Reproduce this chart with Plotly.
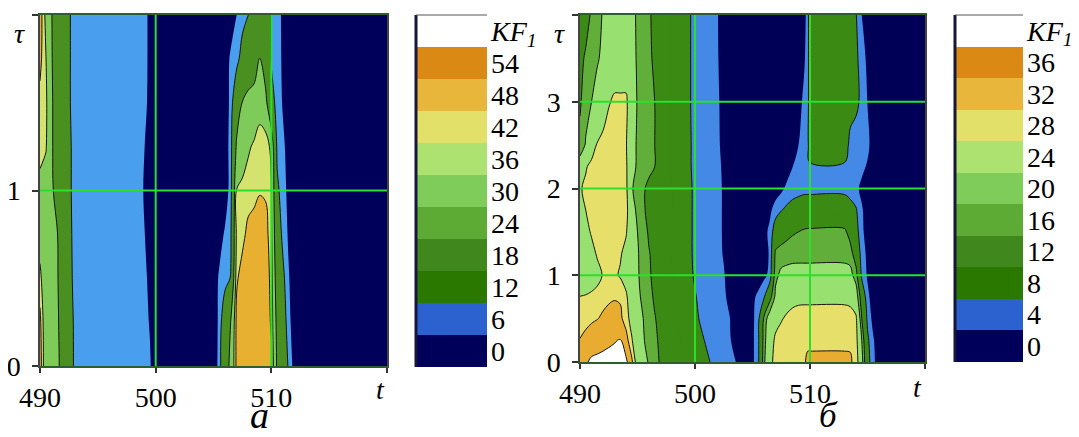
import plotly.graph_objects as go

W, H = 1079, 437          # browser window
OFF = 8                   # default page margin around the plot div
FW, FH = W - OFF, H - OFF  # figure size so that it ends at the window edges
FONT = "Liberation Serif, Times New Roman, serif"

# ---------------- panel a : KF1(t, tau) ----------------
t_a = [490, 490.5, 491, 491.5, 492, 492.5, 493, 498.5, 499.5, 500,
       505, 505.5, 506, 506.5, 507, 507.5, 508, 508.5, 509, 509.5,
       510, 510.5, 511, 511.5, 512, 520]
tau_a = [0, 0.25, 0.5, 0.75, 1.0, 1.25, 1.5, 1.75, 2.0]

a_tau000 = [52, 35, 34, 33, 24, 19, 10, 9, 6.5, 3, 2, 8, 24, 33, 50, 52, 53, 53, 53, 53, 50, 28, 18, 11, 3, 2]
a_tau025 = [50, 35, 34, 32, 23, 18, 10, 9, 5.7, 3, 2, 7.5, 20, 30.5, 50, 52, 52, 53, 53, 53, 47, 26, 17, 8, 2, 2]
a_tau050 = [44, 35, 34, 31, 22, 16, 9, 9, 5, 3, 2, 7, 9, 12.5, 47, 51, 52, 52, 53, 52, 46, 22, 14, 6.5, 2, 2]
a_tau075 = [38, 35, 33, 30.5, 21, 15, 9, 9, 3.7, 3, 2, 3, 7, 11, 44, 46, 50, 51, 52, 51, 44, 18, 10, 5, 2, 2]
a_tau100 = [40, 36, 33, 23, 21, 14, 9, 9, 2, 2, 2, 2, 2, 9, 42.5, 44, 45, 46, 47.5, 47, 42.5, 14, 8, 4.5, 2, 2]
a_tau125 = [44, 43, 32, 22, 21, 14, 9, 9, 3.5, 3, 2, 2, 2, 9, 32, 37, 41, 43, 45, 46, 40, 10, 7, 4, 2, 2]
a_tau150 = [46, 44, 32, 22, 21, 13, 9, 9, 5, 3, 2, 2, 2, 8, 22, 30.5, 34, 36, 39, 34, 16, 9, 5.5, 3, 2, 2]
a_tau175 = [50, 42.5, 31, 22, 21, 13, 9, 9, 5.2, 3, 2, 2, 3, 7, 9, 16, 20, 22, 30.5, 22, 11, 8.5, 5, 3, 2, 2]
a_tau200 = [52, 40, 30.5, 22, 21, 13, 9, 9, 5.2, 3, 2, 2, 2, 3, 6, 9, 11.8, 20, 21, 20, 11, 8, 5, 3, 2, 2]
z_a = [a_tau000, a_tau025, a_tau050, a_tau075, a_tau100, a_tau125,
       a_tau150, a_tau175, a_tau200]

# ---------------- panel b : KF1(t, tau) ----------------
t_b = [490, 490.5, 491, 491.5, 492, 492.5, 493, 493.5, 494, 494.5, 495, 495.5, 496, 496.5, 497,
       499.5, 500, 500.5, 501, 501.5, 502, 502.5, 503, 503.5, 504,
       505, 505.5, 506, 506.5, 507, 507.5, 508, 508.5, 509, 509.5, 509.8,
       510, 513, 513.5, 514, 514.5, 515, 515.5, 516, 520]
tau_b = [0, 0.25, 0.5, 0.75, 1.0, 1.25, 1.5, 1.75, 2.0, 2.25, 2.5, 3.0, 3.5, 4.0]

b_tau000 = [37, 39, 41.5, 42, 42.5, 43, 43, 42.5, 42, 33, 25, 22, 19.5, 17.5, 15.5,
            11, 10, 9.5, 8.8, 7.5, 6.5, 5.8, 5, 4.2, 2,
            3, 7, 19, 26, 30, 31, 31.3, 31.5, 31.7, 31.9, 32.2,
            32.2, 32.2, 32.4, 31, 22, 10, 5, 1.5, 1]
b_tau025 = [32.3, 34, 35.5, 36.5, 37.5, 38.5, 39.5, 40.5, 34, 28.5, 23.5, 20.5, 18, 16.5, 15.5,
            10.5, 9.5, 8.8, 7.5, 6.5, 6, 5.2, 4.5, 2.5, 1,
            3, 7, 18, 25, 29, 30.5, 31, 31.5, 31.7, 31.8, 31.8,
            31.8, 31.8, 31.5, 30, 20, 9, 4.5, 1, 1]
b_tau050 = [29, 30, 31, 31.8, 32.8, 34, 34.5, 33, 30, 26, 22, 20, 17.5, 16.2, 15,
            10, 9, 7.5, 7, 6.5, 6, 5, 4.2, 2, 1,
            3, 6.5, 17, 23, 26, 27.5, 29, 30.5, 31.2, 31.5, 31.5,
            31.5, 31.5, 31, 29, 16, 7, 2.5, 1, 1]
b_tau075 = [28.2, 28.5, 29, 29.5, 30.5, 31, 31.5, 31.5, 29, 24, 21, 19, 17, 15.5, 14.5,
            9.5, 8.3, 7, 6.5, 6, 5.5, 4.7, 3, 1.5, 1,
            3, 5, 7.5, 14, 21, 24, 25, 25.5, 26, 26, 26,
            26, 26, 25.5, 23, 13, 5, 2, 1, 1]
b_tau100 = [22, 23.5, 25, 26.5, 28.3, 29, 28.8, 27.5, 25.5, 23, 20.5, 18.5, 16.5, 15, 14,
            9, 7.5, 6.5, 6, 5.5, 5, 4.3, 2.5, 1.2, 1,
            1, 1.5, 3, 5, 19, 21, 21.5, 21.8, 21.9, 21.9, 21.9,
            21.9, 21.9, 21.5, 18, 7, 3.5, 1.5, 1, 1]
b_tau125 = [23, 25, 26.5, 28.5, 29.5, 30, 29.5, 28.5, 26.5, 23.5, 20.5, 18, 16.2, 15, 14,
            9, 7, 6.5, 6, 5.5, 5, 3.7, 2, 1, 1,
            1, 1.5, 3, 4.25, 17, 18, 18.3, 18.5, 18.5, 18.5, 18.5,
            18.5, 18.5, 18, 13, 6, 3, 1.5, 1, 1]
b_tau150 = [24, 26.5, 28.5, 30, 30.5, 31, 30.5, 30, 28.5, 24, 20, 17.5, 15.5, 14.5, 14,
            9, 7, 6.5, 6, 5.5, 5, 3.5, 1.8, 1, 1,
            1, 1.5, 2.5, 5, 11, 13, 14.5, 15.5, 16, 16.8, 17,
            17, 17, 14, 10, 5, 2, 1, 1, 1]
b_tau175 = [26, 28, 29.5, 30.5, 31, 31, 31, 30.5, 29.5, 24, 18, 16.5, 15, 14.5, 14,
            9, 7, 6.5, 6, 5.5, 5, 3.5, 1.5, 1, 1,
            1, 1, 1.5, 3, 6, 7.8, 9, 10, 10.5, 10.6, 10.6,
            10.6, 10.6, 10, 8.5, 4.5, 2, 1, 1, 1]
b_tau200 = [27.5, 29, 30, 30.5, 31, 31, 31, 30.5, 29.5, 20.5, 18, 16.5, 15, 14.5, 14,
            9, 7, 6.5, 6, 5.5, 5, 3.5, 1.5, 1, 1,
            1, 1, 1, 1, 1.5, 3, 5, 6, 6.5, 7, 7,
            7, 7, 6, 5, 3, 1.5, 1, 1, 1]
b_tau225 = [23, 27.5, 29.5, 30.5, 31, 31.5, 31.5, 31, 29, 22.5, 19, 18, 17, 16, 14,
            8.5, 7, 6, 5.5, 5, 4.6, 3.5, 1.5, 1, 1,
            1, 1, 1, 1, 1, 1.5, 2, 4, 6, 7, 7,
            7, 7, 6.5, 6, 5, 3.5, 1, 1, 1]
b_tau250 = [17, 20.5, 25, 28.5, 30, 31, 31.5, 31, 28.5, 23, 19, 18, 17, 16, 14,
            8.5, 7, 6, 5.5, 5, 4.5, 3, 1.5, 1, 1,
            1, 1, 1, 1, 1, 1, 1, 2, 4, 6, 6.5,
            12, 12, 6, 6, 6, 5, 2, 1, 1]
b_tau300 = [15.5, 18, 20, 22, 24, 27.5, 29, 29, 29, 24, 19.5, 18, 17, 16, 14,
            8.5, 6.5, 6, 5.5, 5, 4.3, 3, 1.5, 1, 1,
            1, 1, 1, 1, 1, 1, 1, 1, 2.5, 5, 6,
            12, 12, 11, 9, 7, 3.9, 1, 1, 1]
b_tau350 = [15, 16.5, 18, 19.5, 21, 23, 24, 24, 24, 21.5, 19.5, 18, 16.5, 15.5, 14,
            8.5, 6.5, 6, 5.5, 5, 4.1, 2.5, 1.5, 1, 1,
            1, 1, 1, 1, 1, 1, 1, 1, 2, 3.5, 6,
            12, 12, 11, 9, 6, 3, 1, 1, 1]
b_tau400 = [13, 14.5, 16.5, 18, 20.5, 22, 23, 23, 22.5, 21, 19.5, 18, 16.5, 15, 14,
            8.5, 6.5, 6, 5.5, 5, 4, 2.5, 1.5, 1, 1,
            1, 1, 1, 1, 1, 1, 1, 1, 1.5, 2.5, 6,
            12, 12, 11, 8.3, 4, 2, 1, 1, 1]
z_b = [b_tau000, b_tau025, b_tau050, b_tau075, b_tau100, b_tau125, b_tau150,
       b_tau175, b_tau200, b_tau225, b_tau250, b_tau300, b_tau350, b_tau400]

# ---------------- contour levels, fills, legends ----------------
level_start_a, level_step_a, level_end_a = 6, 6, 60
level_start_b, level_step_b, level_end_b = 4, 4, 40
line_levels_a = [12, 30, 42, 48, 54, 60]
line_levels_b = [8, 16, 20, 28, 32, 40]

fill_colors_a = ["#00005A", "#4A9EEE", "#4A9020", "#4A9020", "#4A9020", "#7ECB5A",
                 "#7ECB5A", "#D4E36E", "#E8B030", "#D98A14", "#FFFFFF"]
fill_colors_b = ["#000057", "#4589E6", "#3A8A14", "#3A8A14", "#62AE3A", "#98E070",
                 "#98E070", "#E6E06A", "#E8AC30", "#E8AC30", "#FFFFFF"]

legend_colors = ["#00005A", "#2C62D0", "#2A7800", "#40881E", "#5DAA35", "#7FCC5A",
                 "#ADE270", "#E3E06A", "#E8B63A", "#DA8A14", "#FFFFFF"]
legend_labels_a = ["0", "6", "12", "18", "24", "30", "36", "42", "48", "54", "<i>KF<sub>1</sub></i>"]
legend_labels_b = ["0", "4", "8", "12", "16", "20", "24", "28", "32", "36", "<i>KF<sub>1</sub></i>"]

x_ticks = [490, 500, 510, 520]
x_ticktext = ["490", "500", "510", " "]
x_grid = [500, 510]
y_ticks_a = [0, 1, 2]
y_ticktext_a = ["0", "1", " "]
y_grid_a = [1]
y_ticks_b = [0, 1, 2, 3, 4]
y_ticktext_b = ["0", "1", "2", "3", " "]
y_grid_b = [1, 2, 3]


def px(x):
    return (x - OFF) / FW


def py(y):
    return 1 - (y - OFF) / FH


def scale(colors):
    n = len(colors) - 1
    return [[i / n, c] for i, c in enumerate(colors)]


fig = go.Figure()


def add_panel(x, y, z, start, step, end, fills, lines, xa, ya):
    fig.add_trace(go.Contour(
        x=x, y=y, z=z, xaxis=xa, yaxis=ya,
        contours=dict(start=start, end=end, size=step, coloring="fill", showlines=False),
        colorscale=scale(fills), line=dict(width=0), showscale=False,
        hoverinfo="skip"))
    for lv in lines:
        fig.add_trace(go.Contour(
            x=x, y=y, z=z, xaxis=xa, yaxis=ya,
            contours=dict(start=lv, end=lv, size=step, coloring="none"),
            line=dict(color="#151515", width=1), showscale=False,
            hoverinfo="skip"))


def add_legend(labels, xa, ya):
    fig.add_trace(go.Heatmap(
        x=[0], y=list(range(len(labels))), z=[[i] for i in range(len(labels))],
        zmin=0, zmax=len(labels) - 1, colorscale=scale(legend_colors),
        showscale=False, xaxis=xa, yaxis=ya, hoverinfo="skip"))


add_panel(t_a, tau_a, z_a, level_start_a, level_step_a, level_end_a,
          fill_colors_a, line_levels_a, "x", "y")
add_legend(legend_labels_a, "x2", "y2")
add_panel(t_b, tau_b, z_b, level_start_b, level_step_b, level_end_b,
          fill_colors_b, line_levels_b, "x3", "y3")
add_legend(legend_labels_b, "x4", "y4")

tickfont = dict(family=FONT, size=28, color="black")


def xax(dom, anchor):
    return dict(domain=dom, anchor=anchor, range=[490, 520], tickvals=x_ticks,
                ticktext=x_ticktext, ticks="outside", ticklen=5, tickwidth=1.5,
                tickcolor="#333333", showline=True, linecolor="#2E5E2E", linewidth=2,
                mirror=True, showgrid=False, zeroline=False, tickfont=tickfont,
                automargin=False)


def yax(dom, anchor, rng, tv, tt):
    return dict(domain=dom, anchor=anchor, range=rng, tickvals=tv, ticktext=tt,
                ticks="outside", ticklen=6, tickwidth=1.5, tickcolor="#333333",
                showline=True, linecolor="#444444", linewidth=1.5, mirror=True,
                showgrid=False, zeroline=False, tickfont=tickfont,
                automargin=False, ticklabelstandoff=6)


def legx(dom, anchor):
    return dict(domain=dom, anchor=anchor, range=[-0.5, 0.5], visible=False,
                automargin=False)


def legy(dom, anchor, labels):
    return dict(domain=dom, anchor=anchor, range=[-0.5, len(labels) - 0.5],
                side="right", tickvals=list(range(len(labels))), ticktext=labels,
                ticks="", showline=False, showgrid=False, zeroline=False,
                ticklabelstandoff=3, automargin=False,
                tickfont=dict(family=FONT, size=28, color="black"))


shapes = []
GRID = "#2AE02A"
for xa, ya, xs, ys in [("x", "y", x_grid, y_grid_a), ("x3", "y3", x_grid, y_grid_b)]:
    for xv in xs:
        shapes.append(dict(type="line", xref=xa, yref=ya + " domain", x0=xv, x1=xv,
                           y0=0, y1=1, line=dict(color=GRID, width=2), layer="above"))
    for yv in ys:
        shapes.append(dict(type="line", xref=xa + " domain", yref=ya, x0=0, x1=1,
                           y0=yv, y1=yv, line=dict(color=GRID, width=2), layer="above"))
for xa, ya in [("x2", "y2"), ("x4", "y4")]:
    shapes.append(dict(type="line", xref=xa + " domain", yref=ya + " domain",
                       x0=0, x1=0, y0=0, y1=1, line=dict(color="#16163A", width=3),
                       layer="above"))
    shapes.append(dict(type="line", xref=xa + " domain", yref=ya + " domain",
                       x0=0, x1=1, y0=1, y1=1, line=dict(color="#555555", width=1),
                       layer="above"))


def ann(text, x, y, size=28, yanchor="middle", yshift=0):
    return dict(text=text, x=px(x), y=py(y), xref="paper", yref="paper",
                showarrow=False, xanchor="center", yanchor=yanchor, yshift=yshift,
                font=dict(family=FONT, size=size, color="black"))


annotations = [
    ann("<i>τ</i>", 19, 33), ann("<i>t</i>", 380, 389),
    ann("<i>а</i>", 259, 437, 38, "bottom", -1),
    ann("<i>τ</i>", 560, 33), ann("<i>t</i>", 917, 387),
    ann("<i>б</i>", 828, 437, 35, "bottom", 0),
]

fig.update_layout(
    width=FW, height=FH, autosize=False,
    margin=dict(l=0, r=0, t=0, b=0, autoexpand=False),
    paper_bgcolor="white", plot_bgcolor="white",
    showlegend=False,
    xaxis=xax([px(40), px(387)], "y"),
    yaxis=yax([py(366), py(15)], "x", [0, 2], y_ticks_a, y_ticktext_a),
    xaxis2=legx([px(416), px(487)], "y2"),
    yaxis2=legy([py(367), py(15)], "x2", legend_labels_a),
    xaxis3=xax([px(580), px(925)], "y3"),
    yaxis3=yax([py(362), py(15)], "x3", [0, 4], y_ticks_b, y_ticktext_b),
    xaxis4=legx([px(955), px(1023)], "y4"),
    yaxis4=legy([py(362), py(15)], "x4", legend_labels_b),
    shapes=shapes, annotations=annotations,
)

fig.write_html("out.html")
